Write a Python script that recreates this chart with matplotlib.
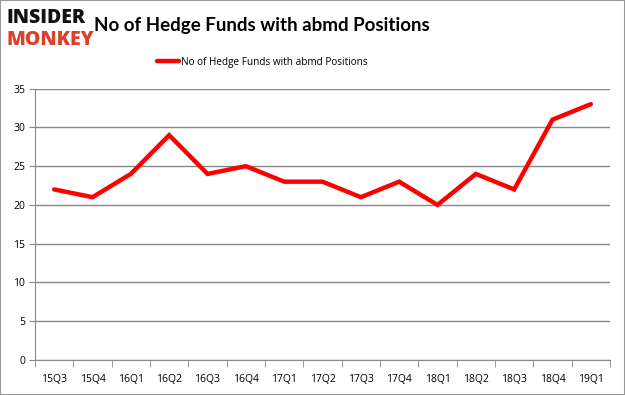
import numpy as np
import matplotlib.pyplot as plt
from matplotlib.patches import Rectangle

quarters = ['15Q3', '15Q4', '16Q1', '16Q2', '16Q3', '16Q4', '17Q1', '17Q2',
            '17Q3', '17Q4', '18Q1', '18Q2', '18Q3', '18Q4', '19Q1']
funds = [22, 21, 24, 29, 24, 25, 23, 23, 21, 23, 20, 24, 22, 31, 33]
series_name = 'No of Hedge Funds with abmd Positions'

plt.rcParams['font.family'] = ['Open Sans', 'DejaVu Sans']

fig = plt.figure(figsize=(6.25, 3.95), dpi=100)
ax = fig.add_axes([0.056, 0.0886, 0.92, 0.687])

x = np.arange(len(quarters))
ax.plot(x, funds, color='#ff0000', lw=3.2, solid_capstyle='round',
        solid_joinstyle='miter', label=series_name)

ax.set_xlim(-0.5, len(quarters) - 0.5)
ax.set_ylim(0, 35)
ax.set_yticks(range(0, 36, 5))
ax.set_xticks(x)
ax.set_xticklabels(quarters, fontsize=7.5)
ax.set_xticks(np.arange(-0.5, len(quarters), 1), minor=True)
ax.tick_params(axis='x', which='major', length=0, pad=10)
ax.tick_params(axis='x', which='minor', length=5, color='#888888', direction='out')
ax.tick_params(axis='y', length=4, color='#888888', labelsize=7.5, pad=3)

ax.grid(axis='y', color='#888888', lw=1)
ax.set_axisbelow(True)
for s in ['top', 'right']:
    ax.spines[s].set_visible(False)
for s in ['left', 'bottom']:
    ax.spines[s].set_color('#888888')

leg = fig.legend(loc='center', bbox_to_anchor=(0.42, 0.842), frameon=False,
                 fontsize=7.2, handlelength=2.2, handletextpad=0.2)

fig.text(0.419, 0.935, 'No of Hedge Funds with abmd Positions', ha='center',
         va='center', fontsize=13.5, fontweight='bold', family=['Lato', 'DejaVu Sans'])
fig.text(0.01, 0.954, 'INSIDER', ha='left', va='center', fontsize=14,
         fontweight='black', color='#111111')
fig.text(0.01, 0.899, 'MONKEY', ha='left', va='center', fontsize=14,
         fontweight='black', color='#d9412b')

fig.patches.append(Rectangle((0, 0), 1, 1, transform=fig.transFigure,
                             fill=False, edgecolor='#999999', lw=1.5))

fig.savefig('out.png', dpi=100)
